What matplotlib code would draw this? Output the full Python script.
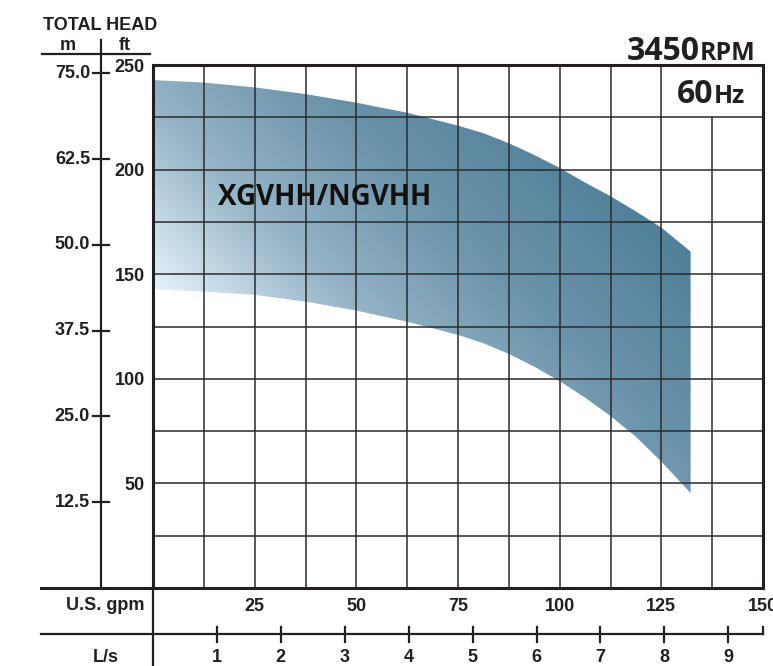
import numpy as np
import matplotlib.pyplot as plt
import matplotlib.transforms as mtransforms
from matplotlib.colors import LinearSegmentedColormap
from matplotlib.patches import Polygon
from matplotlib.lines import Line2D

W, H = 773, 666  # output size in pixels

# pump operating band (flow in U.S. gpm, head in ft)
flow_gpm = [0, 12.5, 25, 37.5, 50, 62.5, 75, 81.25, 87.5, 93.75, 100, 106.25,
            112.5, 118.75, 125, 132.2]
head_max_ft = [242.8, 241.6, 239.3, 236.1, 232.0, 227.2, 221.0, 217.4, 212.6, 207.0,
               200.8, 193.8, 187.3, 180.0, 172.3, 160.8]
head_min_ft = [142.8, 141.7, 140.1, 136.9, 132.6, 127.3, 121.0, 117.0, 111.9, 105.8,
               98.9, 91.0, 82.2, 72.3, 60.4, 45.4]

gpm_ticks = [25, 50, 75, 100, 125, 150]
ft_ticks = [50, 100, 150, 200, 250]
m_ticks = [12.5, 25.0, 37.5, 50.0, 62.5, 75.0]
lps_ticks = [1, 2, 3, 4, 5, 6, 7, 8, 9]
FT_PER_M = 3.2808
GPM_PER_LPS = 15.72  # spacing as printed on the chart

INK = '#231f20'
GRID = '#2b2b2b'

plt.rcParams['font.family'] = ['Liberation Sans', 'DejaVu Sans']


def fx(px):  # pixel x -> figure fraction
    return px / W


def fy(py):  # pixel y (from top) -> figure fraction
    return 1 - py / H


fig = plt.figure(figsize=(W / 100, H / 100), dpi=100)
ax = fig.add_axes([fx(153), fy(588), (763 - 153) / W, (588 - 65) / H])

# gradient band
verts = list(zip(flow_gpm, head_max_ft)) + list(zip(flow_gpm[::-1], head_min_ft[::-1]))
band = Polygon(verts, closed=True, facecolor='none', edgecolor='none')
ax.add_patch(band)

cmap = LinearSegmentedColormap.from_list(
    'band', [(0.0, '#e4f3fb'), (0.3, '#97b4c6'), (0.6, '#6c94ab'), (1.0, '#4d7d97')])
gx, gy = np.meshgrid(np.linspace(0, 150, 400), np.linspace(0, 250, 400))
t = np.clip((gx * 4.067 + (gy - 143) * 2.092) / 600, 0, 1)
im = ax.imshow(t, extent=[0, 150, 0, 250], origin='lower', cmap=cmap, vmin=0, vmax=1,
               aspect='auto', interpolation='bilinear', zorder=1)
im.set_clip_path(band)

ax.set_xlim(0, 150)
ax.set_ylim(0, 250)

# grid
ax.hlines(np.arange(25, 250, 25), 0, 150, color=GRID, lw=1.1, zorder=3)
for xv in np.arange(12.5, 150, 12.5):
    top = 225 if xv == 137.5 else 250
    ax.vlines(xv, 0, top, color=GRID, lw=1.1, zorder=3)

for sp in ax.spines.values():
    sp.set_linewidth(2.2)
    sp.set_color(INK)
    sp.set_zorder(4)

ax.set_xticks(gpm_ticks)
ax.set_xticklabels([str(v) for v in gpm_ticks], fontsize=13, fontweight='bold', color=INK)
ax.set_yticks(ft_ticks)
ax.set_yticklabels([str(v) for v in ft_ticks], fontsize=13, fontweight='bold', color=INK)
ax.tick_params(axis='both', length=0)
ax.tick_params(axis='x', pad=7)
ax.tick_params(axis='y', pad=6)

ax.text(42.3, 186.9, 'XGVHH/NGVHH', fontsize=20, fontweight='bold',
        family=['Open Sans', 'DejaVu Sans'], color='#111111', ha='center', va='center', zorder=5)

# speed / frequency captions
t1 = fig.text(fx(627), fy(60), '3450', fontsize=23, fontweight='bold',
              family=['Open Sans', 'DejaVu Sans'], color=INK, va='baseline')
t2 = fig.text(fx(677), fy(103), '60', fontsize=23, fontweight='bold',
              family=['Open Sans', 'DejaVu Sans'], color=INK, va='baseline')
renderer = fig.canvas.get_renderer()
fig.text(t1.get_window_extent(renderer).x1 / W, fy(60), 'RPM', fontsize=18, fontweight='bold',
         family=['Open Sans', 'DejaVu Sans'], color=INK, va='baseline')
fig.text(t2.get_window_extent(renderer).x1 / W, fy(103), 'Hz', fontsize=18, fontweight='bold',
         family=['Open Sans', 'DejaVu Sans'], color=INK, va='baseline')

# head scale header
fig.text(fx(100), fy(25), 'TOTAL HEAD', fontsize=13, fontweight='bold', color=INK,
         ha='center', va='center')
fig.text(fx(68), fy(46), 'm', fontsize=13, fontweight='bold', color=INK, ha='center', va='center')
fig.text(fx(125), fy(46), 'ft', fontsize=13, fontweight='bold', color=INK, ha='center', va='center')
fig.add_artist(Line2D([fx(42), fx(150)], [fy(54), fy(54)], color=INK, lw=1.6))
fig.add_artist(Line2D([fx(101), fx(101)], [fy(40), fy(588)], color=INK, lw=1.6))

# metre scale
trans_m = mtransforms.blended_transform_factory(fig.transFigure, ax.transData)
for mv in m_ticks:
    fig.add_artist(Line2D([fx(93), fx(109)], [mv * FT_PER_M] * 2, transform=trans_m,
                          color=INK, lw=1.6))
    fig.text(fx(90), mv * FT_PER_M, f'{mv:.1f}', transform=trans_m, fontsize=13,
             fontweight='bold', color=INK, ha='right', va='center')

# flow scales below the chart
fig.add_artist(Line2D([fx(41), fx(153)], [fy(588), fy(588)], color=INK, lw=2.2))
fig.add_artist(Line2D([fx(41), fx(763)], [fy(634), fy(634)], color=INK, lw=1.6))
fig.add_artist(Line2D([fx(763), fx(763)], [fy(627), fy(634)], color=INK, lw=1.6))
fig.add_artist(Line2D([fx(153), fx(153)], [fy(588), fy(666)], color=INK, lw=1.6))
fig.text(fx(145), fy(606), 'U.S. gpm', fontsize=13, fontweight='bold', color=INK,
         ha='right', va='center')
fig.text(fx(106), fy(657), 'L/s', fontsize=13, fontweight='bold', color=INK,
         ha='center', va='center')

trans_q = mtransforms.blended_transform_factory(ax.transData, fig.transFigure)
for q in lps_ticks:
    fig.add_artist(Line2D([q * GPM_PER_LPS] * 2, [fy(627), fy(642)], transform=trans_q,
                          color=INK, lw=1.6))
    fig.text(q * GPM_PER_LPS, fy(657), str(q), transform=trans_q, fontsize=13,
             fontweight='bold', color=INK, ha='center', va='center')

fig.savefig('out.png', dpi=100)
